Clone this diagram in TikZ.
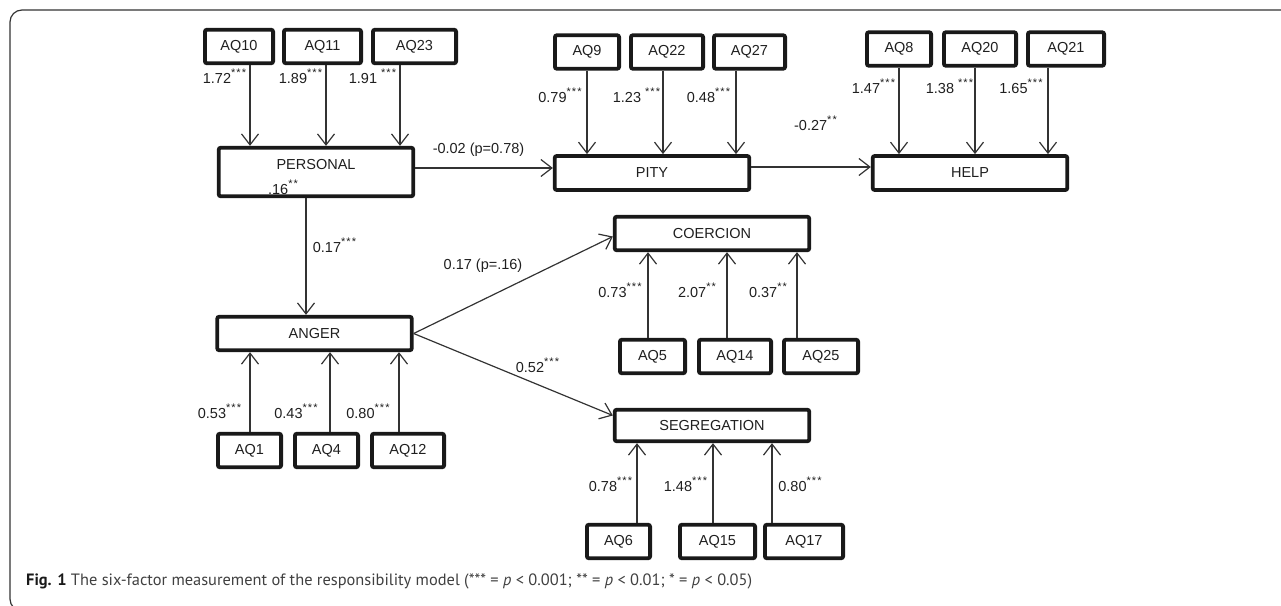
\documentclass[tikz,border=0pt]{standalone}
\usepackage{fontspec}
\setmainfont{Liberation Sans}
\newfontfamily\capfont{PT Sans}
\usetikzlibrary{arrows.meta,positioning,calc}

\newcommand{\sig}[1]{\raisebox{.42em}{\fontsize{11}{11}\selectfont\addfontfeature{LetterSpace=10}#1}}

\begin{document}
\begin{tikzpicture}[x=1pt, y=-1pt,
  every node/.style={font=\fontsize{14.5}{16}\selectfont, text=black!88},
  factor/.style={draw=black!90, line width=3.8pt, rounded corners=2pt, minimum width=194.5, minimum height=34, inner sep=0pt},
  item/.style={draw=black!90, line width=3.8pt, rounded corners=2pt, minimum height=33.5, inner sep=0pt},
  link/.style={draw=black!80, line width=1.2pt, -{Straight Barb[length=11pt,width=17pt]}},
  coef/.style={anchor=base, inner sep=0pt}]
  \useasboundingbox (0,0) rectangle (1281,605);

  % outer frame (runs off the right and bottom)
  \begin{scope}
    \clip (0,0) rectangle (1281,605);
    \draw[black!80, line width=1.2pt, rounded corners=12pt] (10,10) rectangle (1300,611);
  \end{scope}

  % latent factors
  \node[factor, minimum height=48.5] (PERSONAL) at (316,172) {};
  \node (personal-name) at (316,165) {PERSONAL};
  \node[coef] (personal-r2) at (283,194) {.16\sig{**}};
  \node[factor] (PITY) at (652,173) {PITY};
  \node[factor] (HELP) at (970,173) {HELP};
  \node[factor, minimum height=33.5] (ANGER) at (314.5,333.5) {ANGER};
  \node[factor, minimum height=33.5] (COERCION) at (712,233.5) {COERCION};
  \node[factor, minimum height=31.5] (SEGREGATION) at (712,425.5) {SEGREGATION};

  % indicators of PERSONAL
  \foreach \n/\x/\w/\ax/\lx/\lt in {AQ10/239/72/250/224.5/{1.72\sig{***}},
      AQ11/322.5/81/326/300.5/{1.89\sig{***}}, AQ23/414.5/87/400/372.5/{1.91 \sig{***}}}{
    \node[item, minimum width=\w-3.8] (\n) at (\x,46.5) {\n};
    \draw[link] (\ax,0 |- \n.south) -- (\ax,0 |- PERSONAL.north);
    \node[coef] (c\n) at (\lx,83) {\lt};
  }
  % indicators of PITY
  \foreach \n/\x/\w/\ax/\lx/\lt in {AQ9/587/68/587/560/{0.79\sig{***}},
      AQ22/667/76/663/636.5/{1.23 \sig{***}}, AQ27/749.5/75/736/708.5/{0.48\sig{***}}}{
    \node[item, minimum width=\w-3.8] (\n) at (\x,52) {\n};
    \draw[link] (\ax,0 |- \n.south) -- (\ax,0 |- PITY.north);
    \node[coef] (c\n) at (\lx,102) {\lt};
  }
  % indicators of HELP
  \foreach \n/\x/\w/\ax/\lx/\lt in {AQ8/899/68/899/873.5/{1.47\sig{***}},
      AQ20/980/76/975/949.5/{1.38 \sig{***}}, AQ21/1066/80/1048/1021/{1.65\sig{***}}}{
    \node[item, minimum width=\w-3.8] (\n) at (\x,49) {\n};
    \draw[link] (\ax,0 |- \n.south) -- (\ax,0 |- HELP.north);
    \node[coef] (c\n) at (\lx,93) {\lt};
  }
  % indicators of COERCION
  \foreach \n/\x/\w/\ax/\lx/\lt in {AQ5/652.5/69/648/620/{0.73\sig{***}},
      AQ14/735/76/727/697/{2.07\sig{**}}, AQ25/821/78/797/768/{0.37\sig{**}}}{
    \node[item, minimum width=\w-3.8] (\n) at (\x,356.5) {\n};
    \draw[link] (\ax,0 |- \n.north) -- (\ax,0 |- COERCION.south);
    \node[coef] (c\n) at (\lx,297) {\lt};
  }
  % indicators of ANGER
  \foreach \n/\x/\w/\ax/\lx/\lt in {AQ1/249.5/67/250/219.5/{0.53\sig{***}},
      AQ4/326.5/67/330/296/{0.43\sig{***}}, AQ12/408/76/399/368/{0.80\sig{***}}}{
    \node[item, minimum width=\w-3.8] (\n) at (\x,450.5) {\n};
    \draw[link] (\ax,0 |- \n.north) -- (\ax,0 |- ANGER.south);
    \node[coef] (c\n) at (\lx,418) {\lt};
  }
  % indicators of SEGREGATION
  \foreach \n/\x/\w/\ax/\lx/\lt in {AQ6/618.5/67/637/610.5/{0.78\sig{***}},
      AQ15/717.5/79/713/685.5/{1.48\sig{***}}, AQ17/804/82/772/800/{0.80\sig{***}}}{
    \node[item, minimum width=\w-3.8] (\n) at (\x,541.5) {\n};
    \draw[link] (\ax,0 |- \n.north) -- (\ax,0 |- SEGREGATION.south);
    \node[coef] (c\n) at (\lx,491) {\lt};
  }

  % structural paths
  \coordinate (pity-in) at ([yshift=5pt]PITY.west);
  \draw[link] (PERSONAL.east |- pity-in) -- (pity-in);
  \node[coef] (personal-pity) at (478.5,153) {-0.02 (p=0.78)};
  \draw[link] ([yshift=6pt]PITY.east) -- ([yshift=6pt]HELP.west);
  \node[coef] (pity-help) at (815.5,130) {-0.27\sig{**}};
  \draw[link] (306,0 |- PERSONAL.south) -- (306,0 |- ANGER.north);
  \node[coef] (personal-anger) at (334.5,252) {0.17\sig{***}};
  \draw[link] (ANGER.east) -- ([yshift=-3pt]COERCION.west);
  \node[coef] (anger-coercion) at (483,269) {0.17 (p=.16)};
  \draw[link] (ANGER.east) -- ([yshift=10pt]SEGREGATION.west);
  \node[coef] (anger-segregation) at (537.5,372) {0.52\sig{***}};

  % caption
  \node[anchor=west, inner sep=0pt, font=\capfont\fontsize{16.4}{18}\selectfont, text=black!75] (caption) at (26,581)
    {\textbf{\color{black!90}Fig. 1} The six-factor measurement of the responsibility model (*** = \textit{p} < 0.001; ** = \textit{p} < 0.01; * = \textit{p} < 0.05)};
\end{tikzpicture}
\end{document}
